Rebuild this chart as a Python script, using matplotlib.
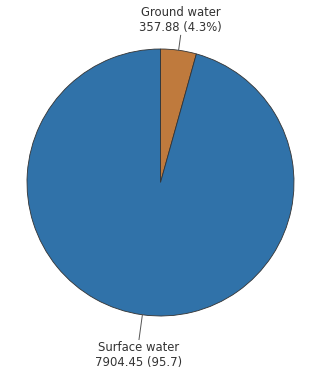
"""Pie chart: ground water vs surface water."""

import numpy as np
import matplotlib

matplotlib.use("Agg")
import matplotlib.pyplot as plt  # noqa: E402

labels = ["Ground water", "Surface water"]
values = [357.88, 7904.45]
pct_text = ["4.3%", "95.7"]
colors = ["#bf7a3d", "#3072a9"]

W, H = 325, 374
CX, CY, R = 160.5, H - 182.5, 133.5

fig = plt.figure(figsize=(W / 100, H / 100), dpi=100)
ax = fig.add_axes([0, 0, 1, 1])

wedges, _ = ax.pie(values, colors=colors, startangle=90, counterclock=False,
                   center=(CX, CY), radius=R, frame=True,
                   wedgeprops=dict(edgecolor="#333333", linewidth=0.6))
ax.set_xlim(0, W)
ax.set_ylim(0, H)
ax.set_aspect("auto")
ax.axis("off")

# leader lines go radially out from the middle of each wedge
offsets = [15, 25]
for w, lab, v, p, off in zip(wedges, labels, values, pct_text, offsets):
    ang = np.deg2rad((w.theta1 + w.theta2) / 2)
    x0, y0 = CX + R * np.cos(ang), CY + R * np.sin(ang)
    x1, y1 = CX + (R + off) * np.cos(ang), CY + (R + off) * np.sin(ang)
    ax.plot([x0, x1], [y0, y1], color="#555555", linewidth=0.7)
    va = "bottom" if np.sin(ang) > 0 else "top"
    ax.text(x1, y1 + (1 if va == "bottom" else -1), f"{lab}\n{v:.2f} ({p})",
            ha="center", va=va, fontsize=8.4, color="#333333", linespacing=1.2)

fig.savefig("out.png", dpi=100, facecolor="white")
